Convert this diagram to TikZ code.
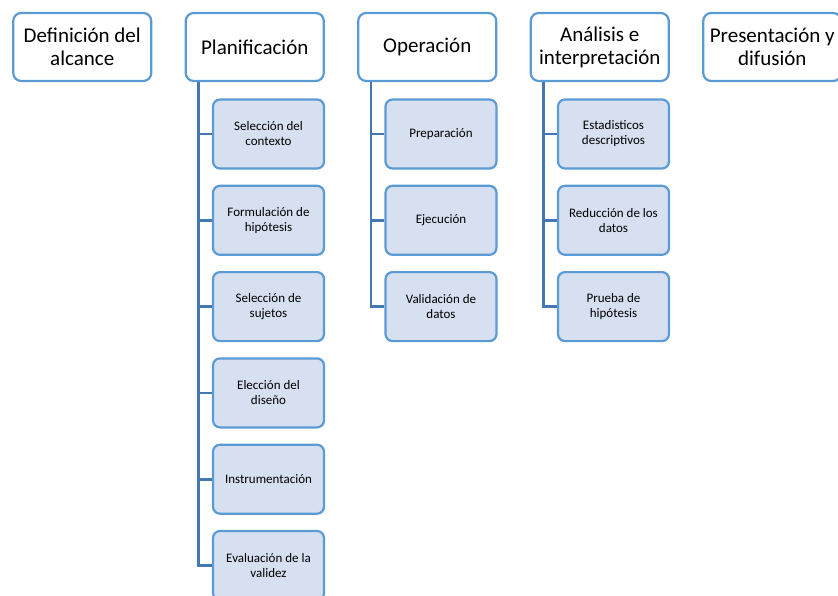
\documentclass[tikz,border=0pt]{standalone}
\usepackage{fontspec}
\setmainfont{Carlito}
\usepackage{xcolor}
\usetikzlibrary{positioning}

\definecolor{boxblue}{RGB}{91,155,213}
\definecolor{spineblue}{RGB}{68,120,178}
\definecolor{taskfill}{RGB}{214,224,240}

\begin{document}
\begin{tikzpicture}[
    x=1pt, y=-1pt,
    phase/.style={draw=boxblue, line width=2.2pt, rounded corners=8pt, fill=white,
      minimum width=138pt, minimum height=68pt, inner sep=1pt, align=center,
      font=\fontsize{21}{23}\selectfont},
    task/.style={draw=boxblue, line width=2.2pt, rounded corners=7pt, fill=taskfill,
      minimum width=111pt, minimum height=69pt, inner sep=2pt, align=center,
      font=\fontsize{13}{15}\selectfont},
    spine/.style={draw=spineblue, line width=2.6pt}
  ]
    \useasboundingbox (0,0) rectangle (838,596);

    % Phases
    \node[phase] (alc) at (82.25,47) {Definición del\\alcance};
    \node[phase] (plan) at (254.75,47) {Planificación};
    \node[phase] (oper) at (427.25,47) {Operación};
    \node[phase] (anal) at (599.75,47) {Análisis e\\interpretación};
    \node[phase] (pres) at (772.25,47) {Presentación y\\difusión};

    % Planning tasks
    \node[task] (p1) at (268.5,134) {Selección del\\contexto};
    \node[task] (p2) at (268.5,220.3) {Formulación de\\hipótesis};
    \node[task] (p3) at (268.5,306.6) {Selección de\\sujetos};
    \node[task] (p4) at (268.5,392.9) {Elección del\\diseño};
    \node[task] (p5) at (268.5,479.2) {Instrumentación};
    \node[task] (p6) at (268.5,565.5) {Evaluación de la\\validez};

    % Operation tasks
    \node[task] (o1) at (441,134) {Preparación};
    \node[task] (o2) at (441,220.3) {Ejecución};
    \node[task] (o3) at (441,306.6) {Validación de\\datos};

    % Analysis tasks
    \node[task] (a1) at (613.5,134) {Estadisticos\\descriptivos};
    \node[task] (a2) at (613.5,220.3) {Reducción de los\\datos};
    \node[task] (a3) at (613.5,306.6) {Prueba de\\hipótesis};

    % Spines
    \foreach \t in {p1,p2,p3,p4,p5,p6}
      \draw[spine] ([xshift=14pt]plan.south west) |- (\t.west);
    \foreach \t in {o1,o2,o3}
      \draw[spine] ([xshift=14pt]oper.south west) |- (\t.west);
    \foreach \t in {a1,a2,a3}
      \draw[spine] ([xshift=14pt]anal.south west) |- (\t.west);
  \end{tikzpicture}
\end{document}
